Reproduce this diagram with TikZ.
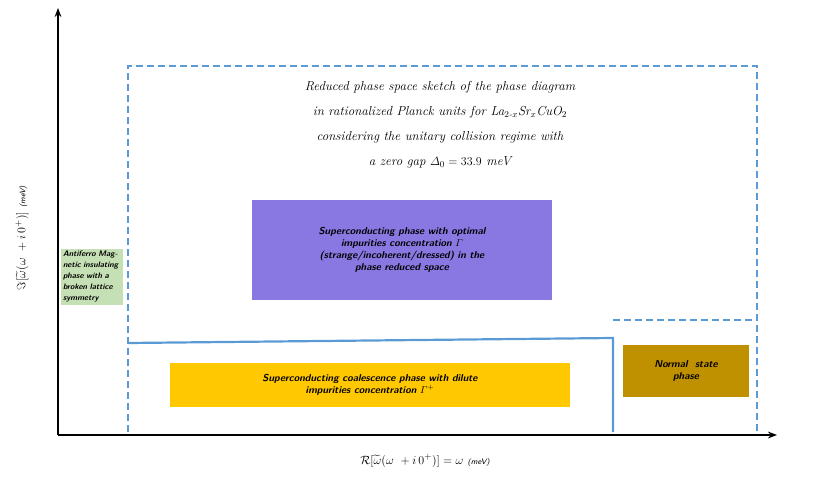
\documentclass[tikz,border=0pt]{standalone}
\usepackage{amsmath,amssymb}
\usetikzlibrary{arrows.meta}
\definecolor{dblue}{HTML}{5B9BD5}
\definecolor{dgreen}{HTML}{C5E0B4}
\definecolor{dpurple}{HTML}{8A78E2}
\definecolor{dyellow}{HTML}{FFC800}
\definecolor{dbrown}{HTML}{BF9000}
\tikzset{
 bluedash/.style={draw=dblue,line width=2.2pt,dash pattern=on 7pt off 4pt},
 bluesol/.style={draw=dblue,line width=2.2pt},
 box/.style={inner sep=3pt,align=center,font=\sffamily\bfseries\itshape\fontsize{10}{12}\selectfont}
}
\begin{document}
\begin{tikzpicture}[x=1pt,y=-1pt]
\useasboundingbox (0,0) rectangle (819,478);
\coordinate (O) at (58,435);
\coordinate (Y) at (58,8);
\coordinate (X) at (777,435);
\draw[line width=2.5pt,-{Stealth[length=9pt]}] (O) -- (Y);
\draw[line width=2.5pt,-{Stealth[length=9pt]}] (O) -- (X);
\draw[bluedash] (128,432) -- (128,66) -- (757,66) -- (757,432);
\draw[bluesol] (128,343) -- (613,338) -- (613,432);
\draw[bluedash] (613,320) -- (757,320);
\node[box,fill=dgreen,text width=58pt,align=left,inner sep=2pt,font=\sffamily\bfseries\itshape\fontsize{8}{11}\selectfont] (g) at (92,277) {Antiferro Magnetic insulating phase with a broken lattice symmetry};
\node[box,fill=dpurple,minimum width=300pt,minimum height=100pt] (p) at (402,250) {Superconducting phase with optimal\\impurities concentration $\varGamma$\\(strange/incoherent/dressed) in the\\phase reduced space};
\node[box,fill=dyellow,minimum width=400pt,minimum height=44pt] (yb) at (370,385) {Superconducting coalescence phase with dilute\\impurities concentration $\varGamma^{+}$};
\node[box,fill=dbrown,minimum width=126pt,minimum height=52pt] (n) at (686,371) {Normal\ \ state\\phase};
\node[align=center,font=\itshape\fontsize{13}{25}\selectfont] (t) at (440,125) {Reduced phase space sketch of the phase diagram\\in rationalized Planck units for La$_{2\text{-}x}$Sr$_x$CuO$_2$\\considering the unitary collision regime with\\a zero gap $\varDelta_0 = 33.9$ meV};
\node[font=\fontsize{13}{15}\selectfont] (xl) at (425,461) {$\mathcal{R}[\widetilde{\omega}(\omega\ +i\,0^{+})] = \omega$ {\sffamily\itshape\fontsize{8}{10}\selectfont (meV)}};
\node[rotate=90,font=\fontsize{13}{15}\selectfont] (yl) at (22,238) {$\Im[\widetilde{\omega}(\omega\ +i\,0^{+})]$ {\sffamily\itshape\fontsize{8}{10}\selectfont (meV)}};
\end{tikzpicture}
\end{document}
